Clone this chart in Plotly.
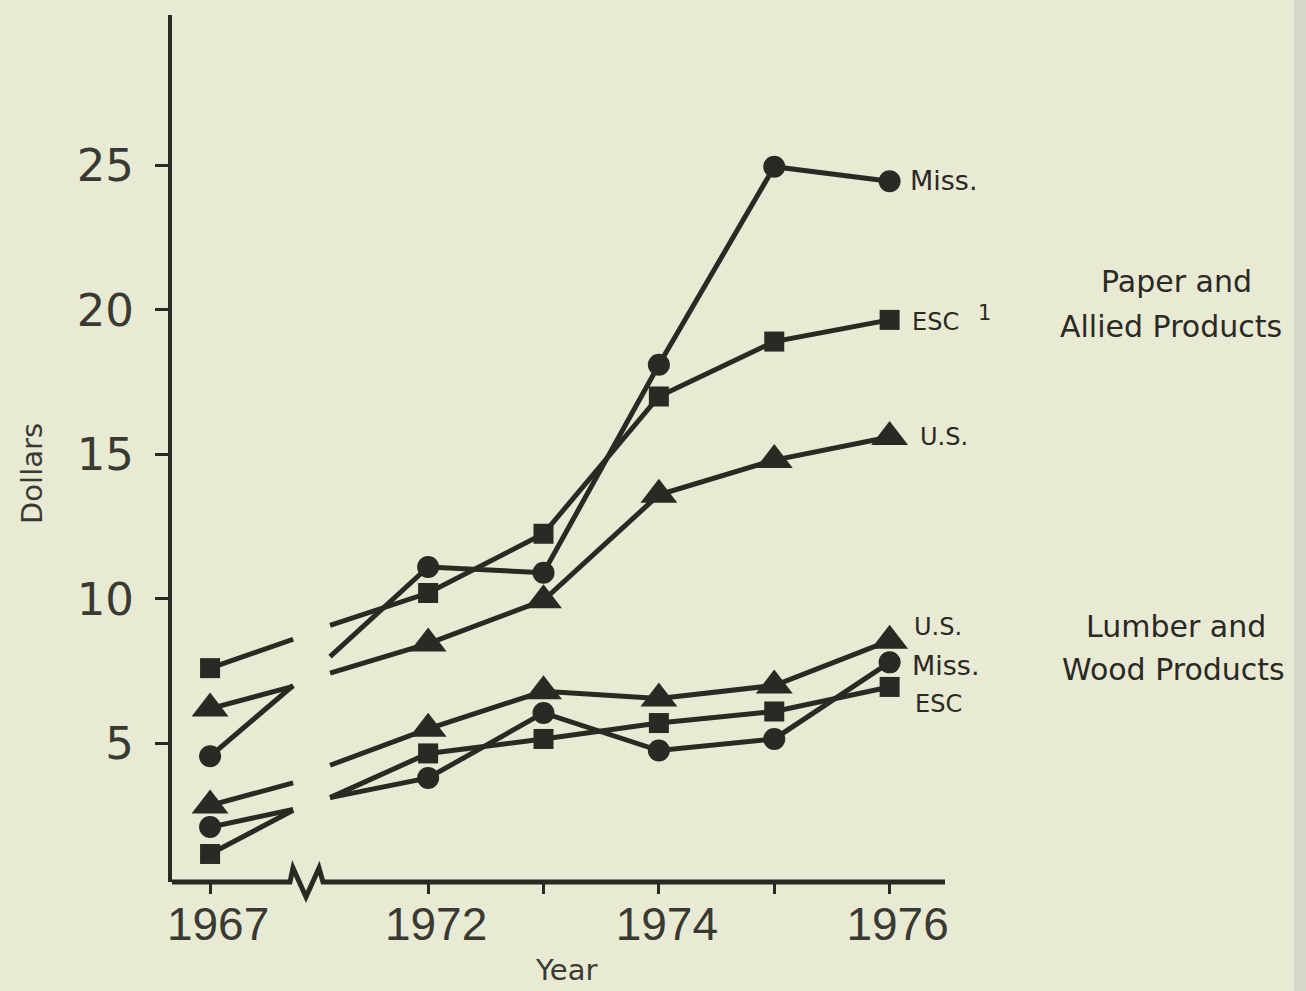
import plotly.graph_objects as go

# ---------------- data ----------------
years = ["1967", "1972", "1973", "1974", "1975", "1976"]
# position of each year on the (broken) horizontal axis
x_pos = [1970.11, 1972, 1973, 1974, 1975, 1976]
tick_labels = ["1967", "1972", "", "1974", "", "1976"]

# Paper and Allied Products
paper_miss = [4.55, 11.1, 10.9, 18.1, 24.95, 24.45]
paper_esc = [7.6, 10.2, 12.25, 17.0, 18.9, 19.65]
paper_us = [6.2, 8.45, 9.95, 13.6, 14.8, 15.6]
# Lumber and Wood Products
lumber_us = [2.85, 5.5, 6.8, 6.55, 7.0, 8.55]
lumber_miss = [2.1, 3.8, 6.05, 4.75, 5.15, 7.8]
lumber_esc = [1.17, 4.65, 5.15, 5.7, 6.1, 6.95]

# values where the 1967->1972 lines are cut by the axis break
break_x = [1970.83, 1971.15]
paper_miss_break = [7.0, 8.0]
paper_esc_break = [8.6, 9.08]
paper_us_break = [6.97, 7.43]
lumber_us_break = [3.63, 4.24]
lumber_miss_break = [2.71, 3.12]
lumber_esc_break = [2.68, 3.12]

y_ticks = [5, 10, 15, 20, 25]

# ---------------- style ----------------
INK = "#2b2923"
TXT = "#3a3932"
BG = "#e8ead4"
FONT = "DejaVu Sans"

# plot area in pixels
L, R, T, B = 172, 945, 15, 882
X_RANGE = [1969.78, 1976.48]
Y_RANGE = [0.2, 30.2]


def px(xp, yp):
    return (xp - L) / (R - L), (B - yp) / (B - T)


symbols = {"circle": ("circle", 22), "square": ("square", 20), "triangle": ("triangle-up", 32)}

series = [
    ("Paper Miss.", paper_miss, paper_miss_break, "circle"),
    ("Paper ESC", paper_esc, paper_esc_break, "square"),
    ("Paper U.S.", paper_us, paper_us_break, "triangle"),
    ("Lumber U.S.", lumber_us, lumber_us_break, "triangle"),
    ("Lumber Miss.", lumber_miss, lumber_miss_break, "circle"),
    ("Lumber ESC", lumber_esc, lumber_esc_break, "square"),
]

fig = go.Figure()
for name, vals, brk, sym in series:
    s, size = symbols[sym]
    xs = [x_pos[0], break_x[0], None, break_x[1]] + x_pos[1:]
    ys = [vals[0], brk[0], None, brk[1]] + vals[1:]
    sizes = [size, 0, 0, 0] + [size] * (len(vals) - 1)
    fig.add_trace(go.Scatter(
        x=xs, y=ys, mode="lines+markers", name=name,
        connectgaps=False, cliponaxis=False,
        line=dict(color=INK, width=5),
        marker=dict(symbol=s, size=sizes, color=INK, opacity=1, line=dict(width=0)),
        hoverinfo="skip", showlegend=False,
    ))

# x axis baseline with break mark
pts = [(L, B), (290, B), (293, 868), (306, 897), (319, 868), (323, B), (R, B)]
path = "M " + " L ".join(f"{px(a, b)[0]:.5f},{px(a, b)[1]:.5f}" for a, b in pts)
shapes = [
    dict(type="path", path=path, xref="paper", yref="paper",
         line=dict(color=INK, width=5), layer="above"),
    # scan edge strip on the right
    dict(type="rect", xref="paper", yref="paper",
         x0=px(1294, 0)[0], x1=px(1310, 0)[0], y0=px(0, 1000)[1], y1=px(0, -10)[1],
         fillcolor="#d6d8c8", line=dict(width=0), layer="below"),
]

annotations = []


def label(text, xp, yp, size, anchor="left"):
    ax, ay = px(xp, yp)
    annotations.append(dict(text=text, x=ax, y=ay, xref="paper", yref="paper",
                            xanchor=anchor, yanchor="middle", showarrow=False,
                            font=dict(family=FONT, size=size, color=INK)))


label("Miss.", 908, 181, 27)
label("ESC", 910, 322, 24)
label("1", 984, 313, 21, "center")
label("U.S.", 918, 437, 24)
label("U.S.", 912, 627, 24)
label("Miss.", 910, 665, 27)
label("ESC", 913, 704, 24)

label("Paper and", 1176, 281, 30, "center")
label("Allied Products", 1171, 326, 30, "center")
label("Lumber and", 1176, 626, 30, "center")
label("Wood Products", 1173, 669, 30, "center")

# axis titles
ax_, ay_ = px(566, 970)
annotations.append(dict(text="Year", x=ax_, y=ay_, xref="paper", yref="paper",
                        xanchor="center", yanchor="middle", showarrow=False,
                        font=dict(family=FONT, size=29, color=TXT)))
ax_, ay_ = px(32, 474)
annotations.append(dict(text="Dollars", x=ax_, y=ay_, xref="paper", yref="paper",
                        xanchor="center", yanchor="middle", showarrow=False, textangle=-90,
                        font=dict(family=FONT, size=29, color=TXT)))

fig.update_layout(
    width=1306, height=991,
    margin=dict(l=L, r=1306 - R, t=T, b=991 - B, pad=0),
    paper_bgcolor=BG, plot_bgcolor=BG,
    shapes=shapes, annotations=annotations,
    showlegend=False,
    xaxis=dict(range=X_RANGE, showgrid=False, zeroline=False, showline=False,
               tickmode="array", tickvals=x_pos, ticktext=tick_labels,
               ticks="outside", ticklen=11, tickwidth=3, tickcolor=INK,
               ticklabelstandoff=-9, ticklabelshift=8,
               tickfont=dict(family="Liberation Sans Narrow, Liberation Sans", size=46, color=TXT),
               fixedrange=True),
    yaxis=dict(range=Y_RANGE, showgrid=False, zeroline=False, showline=True,
               linecolor=INK, linewidth=4, mirror=False,
               tickmode="array", tickvals=y_ticks,
               ticks="outside", ticklen=13, tickwidth=3, tickcolor=INK,
               ticklabelstandoff=12,
               tickfont=dict(family=FONT, size=45, color=TXT),
               fixedrange=True),
)

fig.write_html(
    "out.html",
    config={"displayModeBar": False, "staticPlot": True},
    post_script="document.body.style.margin='0';document.body.style.padding='0';"
                "document.body.style.overflow='hidden';document.body.style.background='" + BG + "';",
)
